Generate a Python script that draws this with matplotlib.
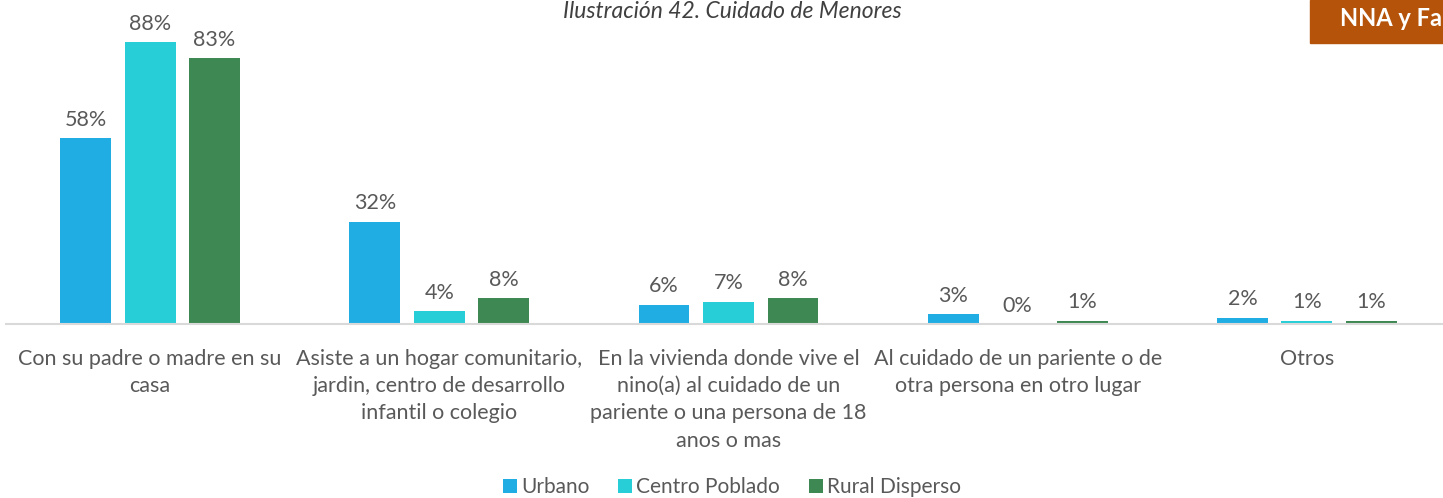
import matplotlib
matplotlib.use("Agg")
import matplotlib.pyplot as plt
import numpy as np
from matplotlib.patches import Rectangle

categories = ["Con su padre o madre en su\ncasa",
              "Asiste a un hogar comunitario,\njardin, centro de desarrollo\ninfantil o colegio",
              "En la vivienda donde vive el\nnino(a) al cuidado de un\npariente o una persona de 18\nanos o mas",
              "Al cuidado de un pariente o de\notra persona en otro lugar",
              "Otros"]
series_names = ["Urbano", "Centro Poblado", "Rural Disperso"]
urbano = [58, 32, 6, 3, 2]
centro = [88, 4, 7, 0, 1]
rural = [83, 8, 8, 1, 1]
colors = ["#1FADE4", "#27CED7", "#3E8853"]

plt.rcParams['font.family'] = ['Lato', 'DejaVu Sans']
txt = "#595959"

fig = plt.figure(figsize=(14.43, 4.98), dpi=100)
W, H = 1443, 498
left = 5.5 / W
right = 1451.5 / W
ax = fig.add_axes([left, (H - 324) / H, right - left, 324 / H])
ax.set_xlim(-0.5, len(categories) - 0.5)
ax.set_ylim(0, 101.25)

x = np.arange(len(categories))
width = 0.176
pitch = 0.223
for i, (vals, c, name) in enumerate(zip([urbano, centro, rural], colors, series_names)):
    pos = x + (i - 1) * pitch
    ax.bar(pos, vals, width=width, color=c, label=name)
    for p, v in zip(pos, vals):
        ax.annotate(f"{v}%", (p, v), xytext=(0, 6), textcoords="offset points",
                    ha="center", va="bottom", fontsize=15.5, color=txt)

for s in ["top", "right", "left"]:
    ax.spines[s].set_visible(False)
ax.spines["bottom"].set_color("#D9D9D9")
ax.spines["bottom"].set_linewidth(1.5)
ax.set_yticks([])
ax.set_xticks(x)
ax.set_xticklabels(categories, fontsize=15.5, color=txt, linespacing=1.45)
ax.tick_params(axis="x", length=0, pad=18)

leg = fig.legend(loc="center", bbox_to_anchor=(732 / W, 1 - 487 / H), ncol=3, frameon=False,
                 fontsize=15, handlelength=0.65, handleheight=0.65, handletextpad=0.2,
                 columnspacing=1.4)
for t in leg.get_texts():
    t.set_color(txt)

fig.text(732 / W, 1 - 12 / H, "Ilustración 42. Cuidado de Menores", ha="center", va="center",
         fontsize=16.5, style="italic", color="#404040")

fig.patches.append(Rectangle((1310 / W, 1 - 43 / H), 140 / W, 43 / H, transform=fig.transFigure,
                             color="#B5530A", zorder=5))
fig.text(1340 / W, 1 - 19 / H, "NNA y Fa", ha="left", va="center", fontsize=17,
         color="white", fontweight="bold", zorder=6)

fig.savefig("out.png", dpi=100)
